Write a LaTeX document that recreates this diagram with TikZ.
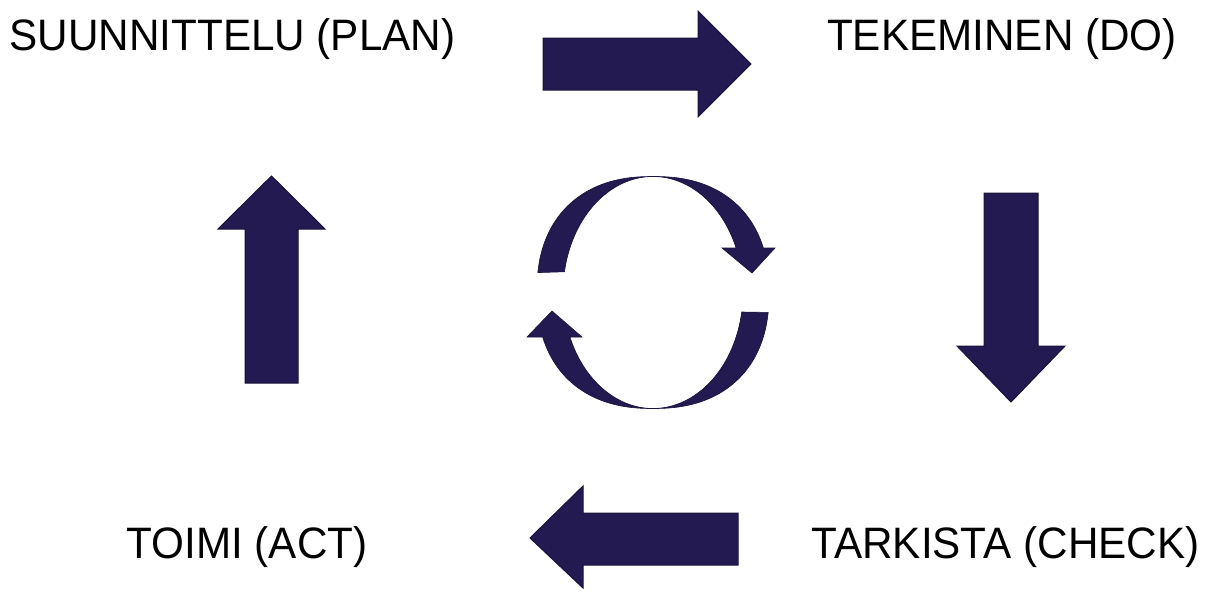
\documentclass[tikz,border=0pt]{standalone}
\usepackage{fontspec}
\setmainfont{Liberation Sans}[FakeStretch=0.96]
\definecolor{arrowfill}{HTML}{221A50}
\definecolor{arrowline}{HTML}{19133D}
\begin{document}
\begin{tikzpicture}[x=1pt,y=-1pt,
  blockarrow/.style={fill=arrowfill,draw=arrowline,line width=1pt,line join=miter},
  label/.style={anchor=base,inner sep=0pt,font=\fontsize{44}{48}\selectfont,text=black},
  declare function={sx(\t)=653+116*sign(cos(\t))*pow(abs(cos(\t))+0.00001,0.866);
                    sy(\t)=292.5+116*sign(sin(\t))*pow(abs(sin(\t))+0.00001,0.866);}]
\useasboundingbox (0,0) rectangle (1211,592);
% labels
\node[label] (plan) at (232.5,50) {SUUNNITTELU (PLAN)};
\node[label] (do) at (1002,50) {TEKEMINEN (DO)};
\node[label] (act) at (247,558) {TOIMI (ACT)};
\node[label] (check) at (1005.5,558) {TARKISTA (CHECK)};
% block arrows
\draw[blockarrow] (543,38) -- (698,38) -- (698,11) -- (751,64) -- (698,117) -- (698,90) -- (543,90) -- cycle;
\draw[blockarrow] (984,193) -- (1038,193) -- (1038,346) -- (1065,346) -- (1011,402) -- (957,346) -- (984,346) -- cycle;
\draw[blockarrow] (738,513) -- (583,513) -- (583,486) -- (530,538) -- (583,588) -- (583,565) -- (738,565) -- cycle;
\draw[blockarrow] (245,383) -- (245,229) -- (218,229) -- (271.5,176) -- (325,229) -- (298,229) -- (298,383) -- cycle;
% circular arrows
\draw[blockarrow,line width=0.6pt]
  plot[domain=187.33:340.69,samples=70,smooth] ({sx(\x)},{sy(\x)})
  -- (775,248) -- (752,273) -- (722,248) -- (736,248)
  -- plot[domain=337.44:190.3,samples=70,smooth] ({653+90*cos(\x)},{292.5+116*sin(\x)})
  -- cycle;
\draw[blockarrow,line width=0.6pt]
  plot[domain=7.33:160.69,samples=70,smooth] ({sx(\x)},{sy(\x)})
  -- (527,337) -- (552,311) -- (582,337) -- (570,337)
  -- plot[domain=157.44:9.68,samples=70,smooth] ({653+90*cos(\x)},{292.5+116*sin(\x)})
  -- cycle;
\end{tikzpicture}
\end{document}
